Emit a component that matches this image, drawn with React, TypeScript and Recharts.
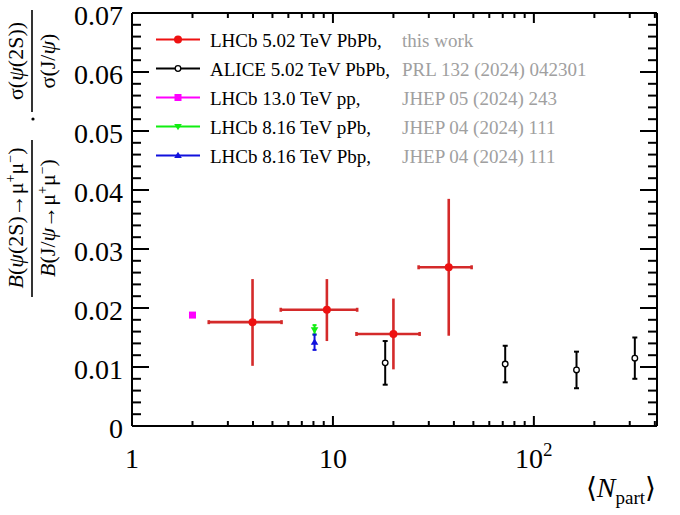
import React from 'react';
import { ScatterChart, Scatter, XAxis, YAxis, ErrorBar, Legend, Label } from 'recharts';

const FONT = 'Liberation Serif, DejaVu Serif, serif';

// LHCb 5.02 TeV PbPb (this work)
const lhcbPbPbNpart = [3.98, 9.33, 20.0, 37.7];
const lhcbPbPbNpartErrLow = [1.57, 3.83, 6.9, 11.0];
const lhcbPbPbNpartErrHigh = [1.57, 3.87, 7.0, 11.3];
const lhcbPbPbRatio = [0.0176, 0.0197, 0.0156, 0.0269];
const lhcbPbPbErrLow = [0.0074, 0.0053, 0.006, 0.0116];
const lhcbPbPbErrHigh = [0.0073, 0.0052, 0.006, 0.0116];

// ALICE 5.02 TeV PbPb
const aliceNpart = [18.2, 72, 163, 318];
const aliceRatio = [0.0107, 0.0105, 0.0095, 0.0115];
const aliceErr = [0.0037, 0.0031, 0.0031, 0.0035];

// LHCb 13 TeV pp
const ppNpart = [2.0];
const ppRatio = [0.0188];

// LHCb 8.16 TeV pPb / Pbp
const pPbNpart = [8.1];
const pPbRatio = [0.0163];
const pPbErr = [0.0008];
const PbpNpart = [8.1];
const PbpRatio = [0.0142];
const PbpErr = [0.0013];

const xTicks = [1, 2, 3, 4, 5, 6, 7, 8, 9, 10, 20, 30, 40, 50, 60, 70, 80, 90, 100, 200, 300, 400];
const xMajorTicks = [1, 10, 100];
const xMajorBase = ['1', '10', '10'];
const xMajorExp = ['', '', '2'];
const yTicks = [
  0, 0.002, 0.004, 0.006, 0.008, 0.01, 0.012, 0.014, 0.016, 0.018, 0.02, 0.022, 0.024, 0.026, 0.028,
  0.03, 0.032, 0.034, 0.036, 0.038, 0.04, 0.042, 0.044, 0.046, 0.048, 0.05, 0.052, 0.054, 0.056,
  0.058, 0.06, 0.062, 0.064, 0.066, 0.068, 0.07,
];
const yMajorTicks = [0, 0.01, 0.02, 0.03, 0.04, 0.05, 0.06, 0.07];
const yMajorLabels = ['0', '0.01', '0.02', '0.03', '0.04', '0.05', '0.06', '0.07'];

const legendNames = ['LHCb 5.02 TeV PbPb,', 'ALICE 5.02 TeV PbPb,', 'LHCb 13.0 TeV pp,', 'LHCb 8.16 TeV pPb,', 'LHCb 8.16 TeV Pbp,'];
const legendRefs = ['this work', 'PRL 132 (2024) 042301', 'JHEP 05 (2024) 243', 'JHEP 04 (2024) 111', 'JHEP 04 (2024) 111'];
const legendColors = ['#ee1111', '#000000', '#ff00ff', '#11ee11', '#1111dd'];
const legendMarkers = ['dot', 'open', 'square', 'down', 'up'];

const X_DOMAIN = [1, 410];
const Y_DOMAIN = [0, 0.07];

const lhcbData = lhcbPbPbNpart.map((x, i) => ({
  x,
  y: lhcbPbPbRatio[i],
  ex: [lhcbPbPbNpartErrLow[i], lhcbPbPbNpartErrHigh[i]],
  ey: [lhcbPbPbErrLow[i], lhcbPbPbErrHigh[i]],
}));
const aliceData = aliceNpart.map((x, i) => ({ x, y: aliceRatio[i], ey: aliceErr[i] }));
const ppData = ppNpart.map((x, i) => ({ x, y: ppRatio[i] }));
const pPbData = pPbNpart.map((x, i) => ({ x, y: pPbRatio[i], ey: pPbErr[i] }));
const PbpData = PbpNpart.map((x, i) => ({ x, y: PbpRatio[i], ey: PbpErr[i] }));

function Marker({ kind, cx, cy, color }: { kind: string; cx: number; cy: number; color: string }) {
  if (kind === 'dot') return <circle cx={cx} cy={cy} r={4} fill={color} />;
  if (kind === 'open') return <circle cx={cx} cy={cy} r={2.8} fill="#fff" stroke={color} strokeWidth={1.3} />;
  if (kind === 'square') return <rect x={cx - 3.5} y={cy - 3.5} width={7} height={7} fill={color} />;
  if (kind === 'down')
    return <path d={`M${cx - 3.8},${cy - 2.5} L${cx + 3.8},${cy - 2.5} L${cx},${cy + 3.8} Z`} fill={color} />;
  return <path d={`M${cx - 3.8},${cy + 2.5} L${cx + 3.8},${cy + 2.5} L${cx},${cy - 3.8} Z`} fill={color} />;
}

const shapeFor = (kind: string, color: string) => (p: any) => <Marker kind={kind} cx={p.cx} cy={p.cy} color={color} />;

const serif = { fontFamily: FONT };

function BottomTick({ x, y, payload }: any) {
  const idx = xMajorTicks.indexOf(payload.value);
  const major = idx >= 0;
  return (
    <g>
      <line x1={x} x2={x} y1={y} y2={y - (major ? 10 : 5)} stroke="#000" strokeWidth={2} />
      {major && (
        <text x={x} y={y + 42} textAnchor="middle" style={serif} fontSize={28} fill="#000">
          {xMajorBase[idx]}
          {xMajorExp[idx] && (
            <tspan dy={-12} fontSize={19}>
              {xMajorExp[idx]}
            </tspan>
          )}
        </text>
      )}
    </g>
  );
}

function TopTick({ x, y, payload }: any) {
  const major = xMajorTicks.includes(payload.value);
  return <line x1={x} x2={x} y1={y} y2={y + (major ? 10 : 5)} stroke="#000" strokeWidth={2} />;
}

function LeftTick({ x, y, payload }: any) {
  const idx = yMajorTicks.indexOf(payload.value);
  const major = idx >= 0;
  return (
    <g>
      <line x1={x} x2={x + (major ? 17 : 9)} y1={y} y2={y} stroke="#000" strokeWidth={2} />
      {major && (
        <text x={x - 9} y={y + 12} textAnchor="end" style={serif} fontSize={28} fill="#000">
          {yMajorLabels[idx]}
        </text>
      )}
    </g>
  );
}

function RightTick({ x, y, payload }: any) {
  const major = yMajorTicks.includes(payload.value);
  return <line x1={x} x2={x - (major ? 17 : 9)} y1={y} y2={y} stroke="#000" strokeWidth={2} />;
}

function YTitle() {
  return (
    <g transform="rotate(-90)" style={serif} fontSize={22} fill="#000">
      <text x={-218} y={23} textAnchor="middle">
        <tspan fontStyle="italic">B</tspan>(<tspan fontStyle="italic">ψ</tspan>(2S)→μ
        <tspan dy={-8} fontSize={14}>+</tspan>
        <tspan dy={8}>μ</tspan>
        <tspan dy={-8} fontSize={14}>−</tspan>
        <tspan dy={8}>)</tspan>
      </text>
      <line x1={-297} x2={-140} y1={32} y2={32} stroke="#000" strokeWidth={1.6} />
      <text x={-218} y={55} textAnchor="middle">
        <tspan fontStyle="italic">B</tspan>(J/<tspan fontStyle="italic">ψ</tspan>→μ
        <tspan dy={-8} fontSize={14}>+</tspan>
        <tspan dy={8}>μ</tspan>
        <tspan dy={-8} fontSize={14}>−</tspan>
        <tspan dy={8}>)</tspan>
      </text>
      <circle cx={-119} cy={33} r={1.6} fill="#000" />
      <text x={-61} y={23} textAnchor="middle">
        σ(<tspan fontStyle="italic">ψ</tspan>(2S))
      </text>
      <line x1={-112} x2={-10} y1={32} y2={32} stroke="#000" strokeWidth={1.6} />
      <text x={-61} y={55} textAnchor="middle">
        σ(J/<tspan fontStyle="italic">ψ</tspan>)
      </text>
    </g>
  );
}

function XTitle() {
  return (
    <text x={656} y={497} textAnchor="end" style={serif} fontSize={28} fill="#000">
      ⟨<tspan fontStyle="italic">N</tspan>
      <tspan dy={7} fontSize={19}>
        part
      </tspan>
      <tspan dy={-7}>⟩</tspan>
    </text>
  );
}

function LegendBox() {
  return (
    <svg width={680} height={515} style={{ position: 'absolute', left: 0, top: 0 }}>
      {legendNames.map((name, i) => {
        const cy = 39.5 + i * 29;
        return (
          <g key={name + i}>
            <line x1={156} x2={200} y1={cy} y2={cy} stroke={legendColors[i]} strokeWidth={2} />
            <Marker kind={legendMarkers[i]} cx={178} cy={cy} color={legendColors[i]} />
            <text x={210} y={cy + 7} style={serif} fontSize={19} fill="#000">
              {name}
            </text>
            <text x={402} y={cy + 7} style={serif} fontSize={19} fill="#a0a0a0">
              {legendRefs[i]}
            </text>
          </g>
        );
      })}
    </svg>
  );
}

export default function App() {
  return (
    <div style={{ position: 'absolute', left: 0, top: 0, width: 680, height: 515, background: '#fff', fontFamily: FONT }}>
      <ScatterChart width={680} height={515} margin={{ top: 3, right: 13, bottom: 0, left: 0 }}>
        <XAxis
          xAxisId="b"
          dataKey="x"
          type="number"
          scale="log"
          domain={X_DOMAIN}
          allowDataOverflow
          ticks={xTicks}
          interval={0}
          height={89}
          tickSize={0}
          tickMargin={0}
          tickLine={false}
          axisLine={{ stroke: '#000', strokeWidth: 2 }}
          tick={<BottomTick />}
        >
          <Label content={() => <XTitle />} />
        </XAxis>
        <XAxis
          xAxisId="t"
          orientation="top"
          dataKey="x"
          type="number"
          scale="log"
          domain={X_DOMAIN}
          allowDataOverflow
          ticks={xTicks}
          interval={0}
          height={10}
          tickSize={0}
          tickMargin={0}
          tickLine={false}
          axisLine={{ stroke: '#000', strokeWidth: 2 }}
          tick={<TopTick />}
        />
        <YAxis
          yAxisId="l"
          dataKey="y"
          type="number"
          domain={Y_DOMAIN}
          allowDataOverflow
          ticks={yTicks}
          interval={0}
          width={132}
          tickSize={0}
          tickMargin={0}
          tickLine={false}
          axisLine={{ stroke: '#000', strokeWidth: 2 }}
          tick={<LeftTick />}
        >
          <Label content={() => <YTitle />} />
        </YAxis>
        <YAxis
          yAxisId="r"
          orientation="right"
          dataKey="y"
          type="number"
          domain={Y_DOMAIN}
          allowDataOverflow
          ticks={yTicks}
          interval={0}
          width={10}
          tickSize={0}
          tickMargin={0}
          tickLine={false}
          axisLine={{ stroke: '#000', strokeWidth: 2 }}
          tick={<RightTick />}
        />
        <Legend
          layout="vertical"
          align="center"
          verticalAlign="middle"
          wrapperStyle={{ left: 0, top: 0, width: 680, height: 515, pointerEvents: 'none' }}
          content={() => <LegendBox />}
        />
        <Scatter
          name="ALICE 5.02 TeV PbPb"
          data={aliceData}
          xAxisId="b"
          yAxisId="l"
          isAnimationActive={false}
          shape={shapeFor('open', '#000')}
        >
          <ErrorBar dataKey="ey" direction="y" width={2.5} stroke="#000" strokeWidth={2} isAnimationActive={false} />
        </Scatter>
        <Scatter
          name="LHCb 13.0 TeV pp"
          data={ppData}
          xAxisId="b"
          yAxisId="l"
          isAnimationActive={false}
          shape={shapeFor('square', '#ff00ff')}
        />
        <Scatter
          name="LHCb 8.16 TeV pPb"
          data={pPbData}
          xAxisId="b"
          yAxisId="l"
          isAnimationActive={false}
          shape={shapeFor('down', '#11ee11')}
        >
          <ErrorBar dataKey="ey" direction="y" width={2} stroke="#11ee11" strokeWidth={2} isAnimationActive={false} />
        </Scatter>
        <Scatter
          name="LHCb 8.16 TeV Pbp"
          data={PbpData}
          xAxisId="b"
          yAxisId="l"
          isAnimationActive={false}
          shape={shapeFor('up', '#1111dd')}
        >
          <ErrorBar dataKey="ey" direction="y" width={2} stroke="#1111dd" strokeWidth={2} isAnimationActive={false} />
        </Scatter>
        <Scatter
          name="LHCb 5.02 TeV PbPb"
          data={lhcbData}
          xAxisId="b"
          yAxisId="l"
          isAnimationActive={false}
          shape={shapeFor('dot', '#ee1111')}
        >
          <ErrorBar dataKey="ex" direction="x" width={2} stroke="#d42a2a" strokeWidth={2.6} isAnimationActive={false} />
          <ErrorBar dataKey="ey" direction="y" width={0} stroke="#d42a2a" strokeWidth={2.6} isAnimationActive={false} />
        </Scatter>
      </ScatterChart>
    </div>
  );
}
